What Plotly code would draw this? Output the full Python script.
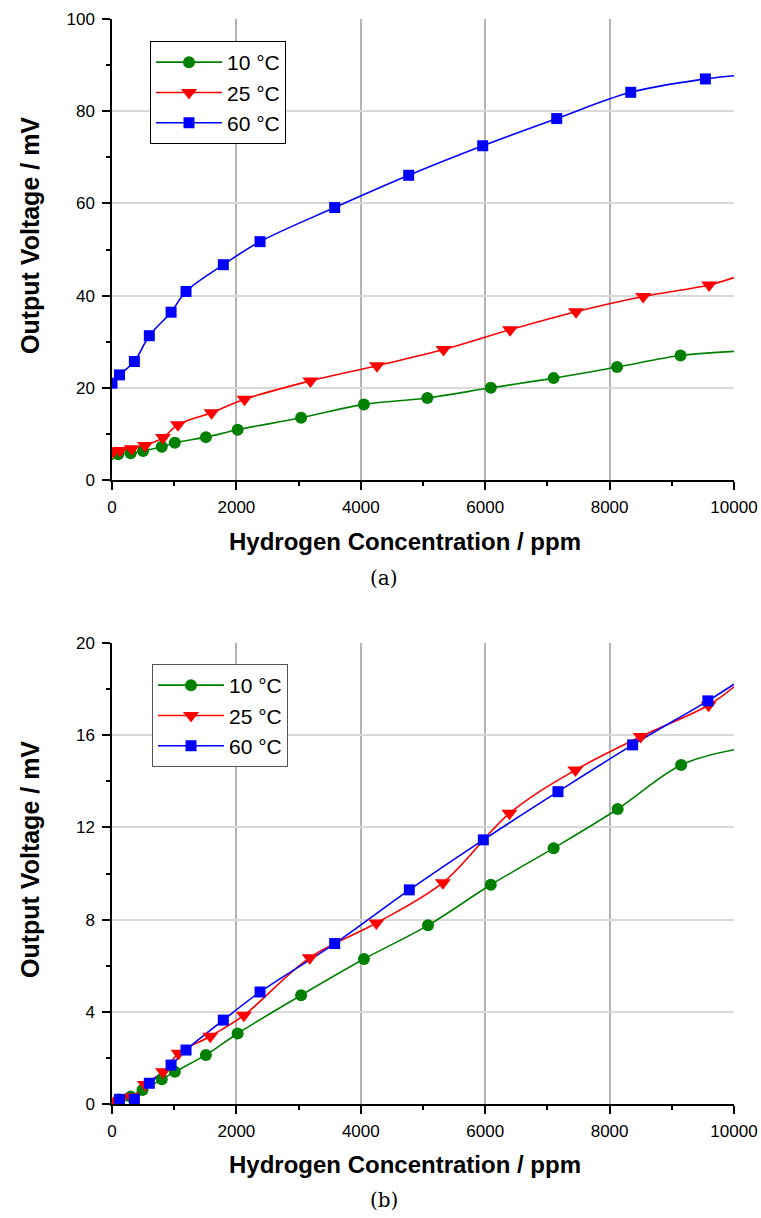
import plotly.graph_objects as go

# ---------------- data (a) ----------------
A10_X = [100, 300, 500, 800, 1010, 1510, 2020, 3040, 4050, 5070, 6090, 7100, 8120, 9140]
A10_Y = [5.6, 5.8, 6.3, 7.2, 8.1, 9.3, 10.9, 13.5, 16.4, 17.8, 20.0, 22.1, 24.5, 27.0]
A10_FIT_X = [0] + A10_X + [10000]
A10_FIT_Y = [4.4] + A10_Y + [27.9]

A25_X = [20, 130, 320, 530, 820, 1060, 1600, 2130, 3190, 4260, 5330, 6400, 7460, 8540, 9600]
A25_Y = [6.2, 6.4, 6.8, 7.5, 9.2, 12.0, 14.6, 17.5, 21.5, 24.8, 28.3, 32.6, 36.5, 39.8, 42.3]
A25_FIT_X = A25_X + [10000]
A25_FIT_Y = A25_Y + [43.9]

A60_X = [0, 120, 360, 600, 950, 1190, 1790, 2380, 3580, 4770, 5960, 7150, 8340, 9540]
A60_Y = [21.0, 22.8, 25.7, 31.3, 36.4, 40.9, 46.7, 51.7, 59.1, 66.1, 72.5, 78.4, 84.1, 87.0]
A60_FIT_X = A60_X + [10000]
A60_FIT_Y = A60_Y + [87.7]

# ---------------- data (b) ----------------
B10_X = [110, 300, 490, 800, 1010, 1510, 2020, 3040, 4050, 5080, 6090, 7100, 8130, 9150]
B10_Y = [0.20, 0.32, 0.61, 1.07, 1.40, 2.13, 3.06, 4.72, 6.29, 7.75, 9.51, 11.10, 12.80, 14.71]
B10_FIT_X = [0] + B10_X + [10000]
B10_FIT_Y = [0.05] + B10_Y + [15.37]

B25_X = [20, 130, 320, 530, 820, 1070, 1580, 2120, 3180, 4250, 5320, 6390, 7450, 8500, 9590]
B25_Y = [0.10, 0.15, 0.30, 0.85, 1.40, 2.20, 2.94, 3.85, 6.35, 7.85, 9.60, 12.61, 14.49, 15.94, 17.30]
B25_FIT_X = B25_X + [10000]
B25_FIT_Y = B25_Y + [18.1]

B60_X = [120, 360, 600, 950, 1190, 1790, 2380, 3580, 4780, 5970, 7170, 8370, 9580]
B60_Y = [0.20, 0.20, 0.90, 1.69, 2.34, 3.64, 4.86, 6.96, 9.29, 11.46, 13.55, 15.58, 17.49]
B60_FIT_X = B60_X + [10000]
B60_FIT_Y = B60_Y + [18.21]

SERIES_NAMES = ["10 °C", "25 °C", "60 °C"]
COLORS = ["#008000", "#FF0000", "#0000FF"]
SYMBOLS = ["circle", "triangle-down", "square"]
SIZES = [12, 14, 11]

X_TITLE = "Hydrogen Concentration / ppm"
Y_TITLE = "Output Voltage / mV"

fig = go.Figure()

panels = [
    ("x", "y", "legend",
     [(A10_X, A10_Y, A10_FIT_X, A10_FIT_Y), (A25_X, A25_Y, A25_FIT_X, A25_FIT_Y), (A60_X, A60_Y, A60_FIT_X, A60_FIT_Y)]),
    ("x2", "y2", "legend2",
     [(B10_X, B10_Y, B10_FIT_X, B10_FIT_Y), (B25_X, B25_Y, B25_FIT_X, B25_FIT_Y), (B60_X, B60_Y, B60_FIT_X, B60_FIT_Y)]),
]

for xa, ya, leg, series in panels:
    for i, (mx, my, fx, fy) in enumerate(series):
        fig.add_trace(go.Scatter(x=fx, y=fy, mode="lines", xaxis=xa, yaxis=ya,
                                 line=dict(color=COLORS[i], width=1.6, shape="spline", smoothing=1.0),
                                 showlegend=False, hoverinfo="skip"))
    for i, (mx, my, fx, fy) in enumerate(series):
        fig.add_trace(go.Scatter(x=mx, y=my, mode="markers", xaxis=xa, yaxis=ya,
                                 marker=dict(color=COLORS[i], symbol=SYMBOLS[i], size=SIZES[i],
                                             line=dict(width=0)),
                                 showlegend=False))
    for i in range(3):
        fig.add_trace(go.Scatter(x=[None], y=[None], mode="lines+markers", xaxis=xa, yaxis=ya,
                                 name=SERIES_NAMES[i], legend=leg,
                                 line=dict(color=COLORS[i], width=1.6),
                                 marker=dict(color=COLORS[i], symbol=SYMBOLS[i], size=SIZES[i],
                                             line=dict(width=0))))

W, H = 761, 1218

def px(x):
    return x / W

def py(y):
    return 1 - y / H

XL, XR = px(112), px(734)
TOP_Y = [py(480), py(19)]
BOT_Y = [py(1104), py(643)]

tickfont = dict(family="Liberation Sans, Arial, sans-serif", size=17, color="black")

def xaxis_cfg(anchor):
    return dict(domain=[XL, XR], anchor=anchor, range=[0, 10000], autorange=False,
                tick0=0, dtick=2000, tickformat="d", showline=True, linecolor="black", linewidth=1.5,
                ticks="outside", ticklen=8, tickwidth=1.5, tickcolor="black",
                minor=dict(dtick=1000, ticks="outside", ticklen=4, tickwidth=1.5, tickcolor="black", showgrid=False),
                showgrid=True, gridcolor="#b4b4b4", gridwidth=1.5, zeroline=False,
                tickfont=tickfont, automargin=False, ticklabelstandoff=3, ticklabeloverflow="allow")

def yaxis_cfg(anchor, domain, rmax, dt):
    return dict(domain=domain, anchor=anchor, range=[0, rmax], autorange=False,
                tick0=0, dtick=dt, tickformat="d", showline=True, linecolor="black", linewidth=1.5,
                ticks="outside", ticklen=8, tickwidth=1.5, tickcolor="black",
                minor=dict(dtick=dt / 2, ticks="outside", ticklen=4, tickwidth=1.5, tickcolor="black", showgrid=False),
                showgrid=True, gridcolor="#d9d9d9", gridwidth=1.5, zeroline=False,
                tickfont=tickfont, automargin=False, ticklabelstandoff=4, ticklabeloverflow="allow")

legend_common = dict(xanchor="left", yanchor="top", bgcolor="white", borderwidth=1,
                     font=dict(family="Liberation Sans, Arial, sans-serif", size=21, color="black"),
                     itemwidth=66, tracegroupgap=0, itemclick=False)

title_font = dict(family="Liberation Sans, Arial, sans-serif", size=24, color="black")
ytitle_font = dict(family="Liberation Sans, Arial, sans-serif", size=25, color="black")

annotations = []
for (ycx, yty, lab, laby) in [(236, 541, "(a)", 578), (860, 1164, "(b)", 1200)]:
    annotations.append(dict(text="<b>%s</b>" % X_TITLE, x=px(405), y=py(yty), xref="paper", yref="paper",
                            showarrow=False, xanchor="center", yanchor="middle", font=title_font))
    annotations.append(dict(text="<b>%s</b>" % Y_TITLE, x=px(30), y=py(ycx), xref="paper", yref="paper",
                            showarrow=False, xanchor="center", yanchor="middle", textangle=-90, font=ytitle_font))
    annotations.append(dict(text=lab, x=px(384), y=py(laby), xref="paper", yref="paper",
                            showarrow=False, xanchor="center", yanchor="middle",
                            font=dict(family="DejaVu Serif, Liberation Serif, serif", size=20, color="black")))

fig.update_layout(
    template="none",
    width=W, height=H,
    margin=dict(l=0, r=0, t=0, b=0, autoexpand=False),
    paper_bgcolor="white", plot_bgcolor="white",
    xaxis=xaxis_cfg("y"),
    yaxis=yaxis_cfg("x", TOP_Y, 100, 20),
    xaxis2=xaxis_cfg("y2"),
    yaxis2=yaxis_cfg("x2", BOT_Y, 20, 4),
    legend=dict(x=px(150), y=py(41), bordercolor="black", **legend_common),
    legend2=dict(x=px(152), y=py(664), bordercolor="#555555", **legend_common),
    annotations=annotations,
    showlegend=True,
)

fig.write_html("out.html", config={"displayModeBar": False},
               post_script="document.body.style.margin='0';document.body.style.overflow='hidden';")
